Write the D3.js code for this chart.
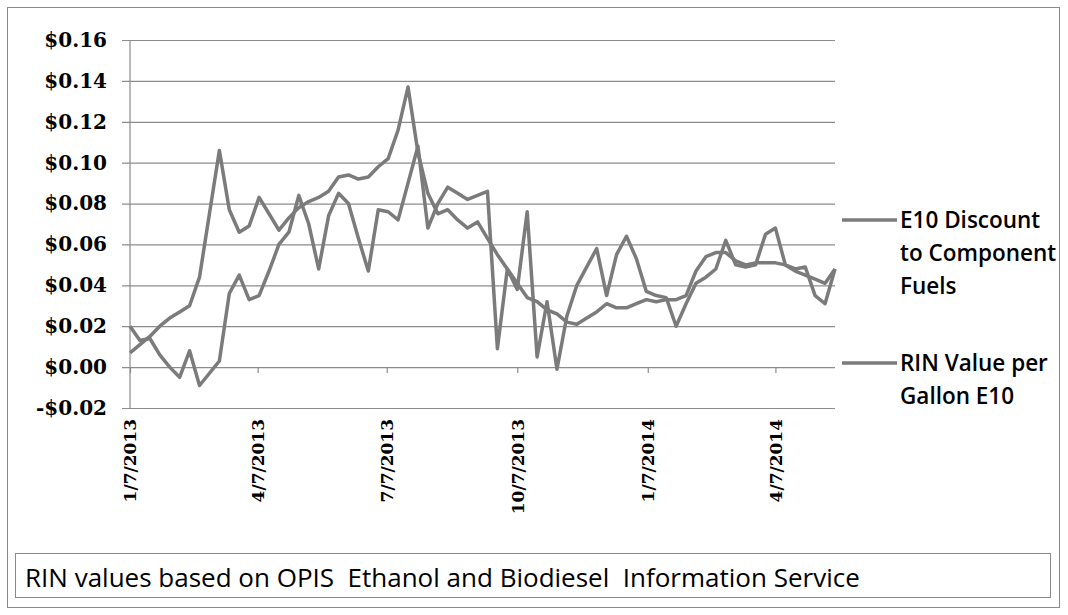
<!DOCTYPE html>
<html>
<head>
<meta charset="utf-8">
<script src="https://cdn.jsdelivr.net/npm/d3@7"></script>
<style>
  html, body { margin: 0; padding: 0; background: #fff; }
  svg { display: block; }
</style>
</head>
<body>
<svg id="chart" width="1068" height="615"></svg>
<script>
// weekly observations, first Monday of 2013 through mid May 2014
const startDate = '2013-01-07';
const numWeeks = 72;

// E10 discount to component fuels ($/gal)
const e10Discount = [
  0.020, 0.013, 0.014, 0.006, 0.000, -0.005, 0.008, -0.009, -0.003, 0.003,
  0.036, 0.045, 0.033, 0.035, 0.047, 0.060, 0.066, 0.084, 0.070, 0.048,
  0.074, 0.085, 0.080, 0.063, 0.047, 0.077, 0.076, 0.072, 0.090, 0.108,
  0.068, 0.080, 0.088, 0.085, 0.082, 0.084, 0.086, 0.009, 0.048, 0.038,
  0.076, 0.005, 0.032, -0.001, 0.025, 0.040, 0.049, 0.058, 0.035, 0.055,
  0.064, 0.053, 0.037, 0.035, 0.034, 0.020, 0.031, 0.041, 0.044, 0.048,
  0.062, 0.050, 0.049, 0.050, 0.065, 0.068, 0.050, 0.048, 0.049, 0.035,
  0.031, 0.048
];

// RIN value per gallon of E10 ($/gal)
const rinValue = [
  0.007, 0.011, 0.015, 0.020, 0.024, 0.027, 0.030, 0.044, 0.075, 0.106,
  0.077, 0.066, 0.069, 0.083, 0.075, 0.067, 0.073, 0.078, 0.081, 0.083,
  0.086, 0.093, 0.094, 0.092, 0.093, 0.098, 0.102, 0.116, 0.137, 0.105,
  0.085, 0.075, 0.077, 0.072, 0.068, 0.071, 0.063, 0.055, 0.048, 0.041,
  0.034, 0.032, 0.028, 0.026, 0.022, 0.021, 0.024, 0.027, 0.031, 0.029,
  0.029, 0.031, 0.033, 0.032, 0.033, 0.033, 0.035, 0.047, 0.054, 0.056,
  0.056, 0.052, 0.050, 0.051, 0.051, 0.051, 0.050, 0.047, 0.045, 0.043,
  0.041, 0.048
];

const seriesNames = [
  ['E10 Discount', 'to Component', 'Fuels'],
  ['RIN Value per', 'Gallon E10']
];
const tickDates = ['2013-01-07', '2013-04-07', '2013-07-07', '2013-10-07', '2014-01-07', '2014-04-07'];
const yTicks = [-0.02, 0, 0.02, 0.04, 0.06, 0.08, 0.10, 0.12, 0.14, 0.16];
const note = 'RIN values based on OPIS\u00a0 Ethanol and Biodiesel\u00a0 Information Service';

main();

// no d3-selection-multi here, so a tiny stand-in
function attrs (sel, obj) {
  Object.keys(obj).forEach(k => sel.attr(k, obj[k]));
  return sel;
}

function main () {
  const svg = d3.select('svg#chart');
  const parse = d3.timeParse('%Y-%m-%d');
  const t0 = parse(startDate);
  const dates = d3.range(numWeeks).map(i => d3.timeDay.offset(t0, 7 * i));

  const left = 130, right = 835, top = 40, bottom = 408;
  const x = d3.scaleTime().domain([dates[0], dates[dates.length - 1]]).range([left, right]);
  const y = d3.scaleLinear().domain([-0.02, 0.16]).range([bottom, top]);

  const lineColor = '#7b7b7b';
  const gridColor = '#8c8c8c';

  // outer frame
  attrs(svg.append('rect'), {
    x: 7.5, y: 7.5, width: 1052, height: 600,
    fill: 'none', stroke: '#8a8a8a', 'stroke-width': 1
  });

  // horizontal gridlines + y labels
  const fmt = v => (v < 0 ? '-$' : '$') + Math.abs(v).toFixed(2);
  const yAxis = d3.axisLeft(y).tickValues(yTicks).tickFormat(fmt)
    .tickSize(-(right - left) - 8).tickPadding(15);
  const gy = svg.append('g').attr('transform', `translate(${left - 8},0)`).call(yAxis);
  gy.select('.domain').remove();
  attrs(gy.selectAll('.tick line'), { stroke: gridColor, 'stroke-width': 1.2 });
  gy.selectAll('.tick text').attr('fill', '#000')
    .style('font-family', '"DejaVu Serif", serif').style('font-size', '20px')
    .style('font-weight', 'bold');

  // vertical axis line
  attrs(svg.append('line'), {
    x1: left, x2: left, y1: top, y2: bottom,
    stroke: gridColor, 'stroke-width': 1.2
  });

  // x axis sits on the zero line
  const xAxis = d3.axisBottom(x).tickValues(tickDates.map(parse))
    .tickFormat(d3.timeFormat('%-m/%-d/%Y')).tickSize(6).tickPadding(0);
  const gx = svg.append('g').attr('transform', `translate(0,${y(0)})`).call(xAxis);
  gx.select('.domain').remove();
  attrs(gx.selectAll('.tick line'), { stroke: gridColor, 'stroke-width': 1.2 });
  attrs(gx.selectAll('.tick text'), {
    transform: `translate(0,${bottom - y(0) + 11}) rotate(-90)`,
    x: 0, y: 0, dy: '0.35em', fill: '#000'
  })
    .style('text-anchor', 'end')
    .style('font-family', '"DejaVu Serif", serif').style('font-size', '17px')
    .style('font-weight', 'bold');

  // series lines
  const line = d3.line().x((d, i) => x(dates[i])).y(d => y(d));
  [e10Discount, rinValue].forEach(vals => {
    attrs(svg.append('path').datum(vals), {
      d: line, fill: 'none', stroke: lineColor,
      'stroke-width': 3.5, 'stroke-linejoin': 'round'
    });
  });

  // legend
  const legendTop = [220, 363];
  seriesNames.forEach((rows, k) => {
    attrs(svg.append('line'), {
      x1: 842, x2: 897, y1: legendTop[k], y2: legendTop[k],
      stroke: lineColor, 'stroke-width': 3.5
    });
    rows.forEach((r, j) => {
      attrs(svg.append('text').text(r), {
        x: 900, y: legendTop[k] + j * 33, dy: '0.35em', fill: '#000'
      }).style('font-family', '"Open Sans", sans-serif')
        .style('font-size', '22.5px').style('font-weight', 600);
    });
  });

  // source note box
  attrs(svg.append('rect'), {
    x: 15.5, y: 553.5, width: 1035, height: 44,
    fill: 'none', stroke: '#8a8a8a', 'stroke-width': 1
  });
  attrs(svg.append('text').text(note), {
    x: 25, y: 578, dy: '0.35em', fill: '#000'
  }).style('font-family', '"Open Sans", sans-serif').style('font-size', '26px');
}
</script>
</body>
</html>
